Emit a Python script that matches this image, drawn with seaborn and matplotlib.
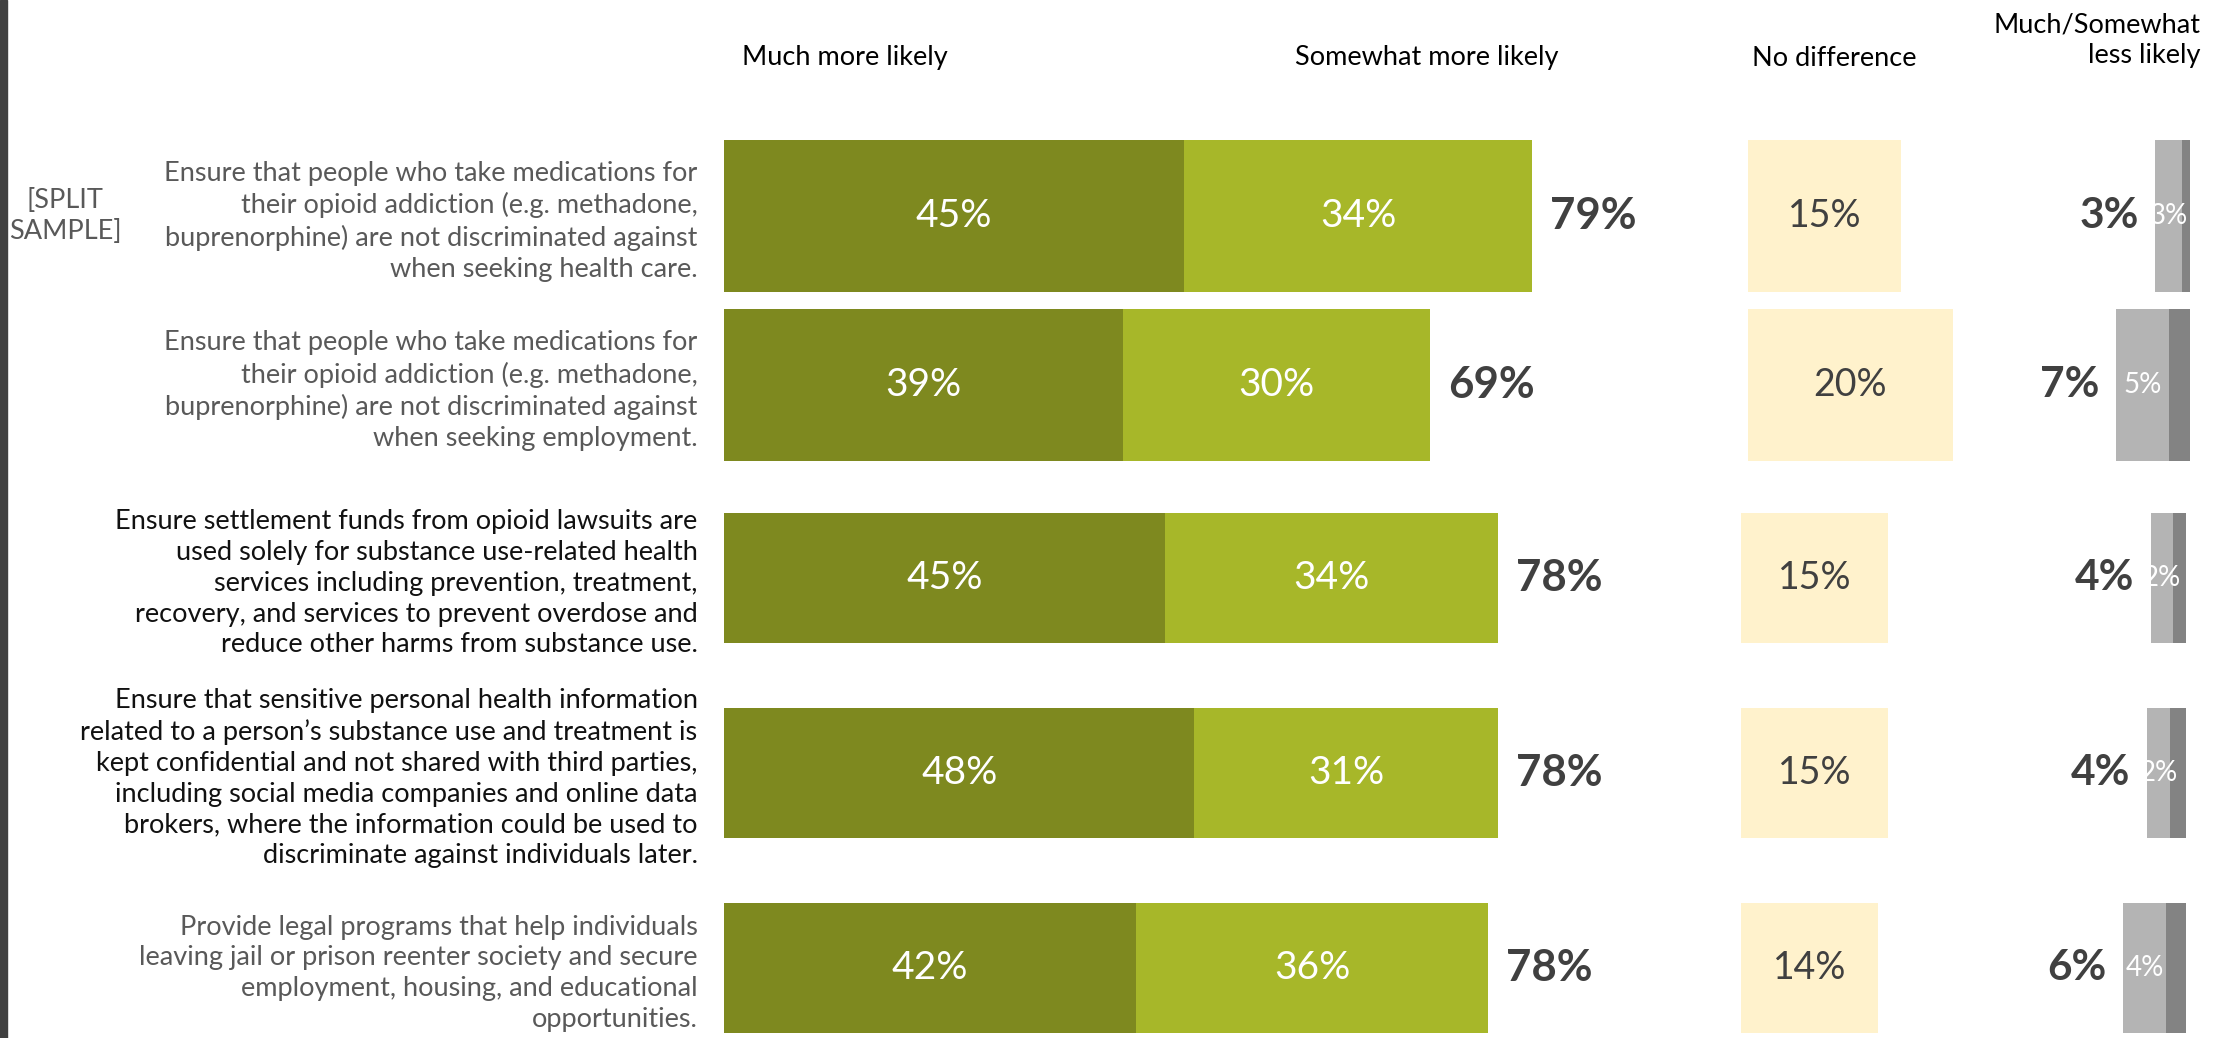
import matplotlib
matplotlib.use('Agg')
import matplotlib.pyplot as plt
import seaborn as sns
from matplotlib.patches import Rectangle

# data
statements = [
    "Ensure that people who take medications for\ntheir opioid addiction (e.g. methadone,\nbuprenorphine) are not discriminated against\nwhen seeking health care.",
    "Ensure that people who take medications for\ntheir opioid addiction (e.g. methadone,\nbuprenorphine) are not discriminated against\nwhen seeking employment.",
    "Ensure settlement funds from opioid lawsuits are\nused solely for substance use-related health\nservices including prevention, treatment,\nrecovery, and services to prevent overdose and\nreduce other harms from substance use.",
    "Ensure that sensitive personal health information\nrelated to a person\u2019s substance use and treatment is\nkept confidential and not shared with third parties,\nincluding social media companies and online data\nbrokers, where the information could be used to\ndiscriminate against individuals later.",
    "Provide legal programs that help individuals\nleaving jail or prison reenter society and secure\nemployment, housing, and educational\nopportunities.",
]
much_more = [45, 39, 45, 48, 42]
somewhat_more = [34, 30, 34, 31, 36]
total_more = [79, 69, 78, 78, 78]
no_difference = [15, 20, 15, 15, 14]
somewhat_less = [2.6, 5.1, 2.3, 2.4, 4.4]
much_less = [0.8, 2.1, 1.3, 1.6, 2.0]
total_less = [3, 7, 4, 4, 6]
headers = ["Much more likely", "Somewhat more likely", "No difference", "Much/Somewhat\nless likely"]

label_colors = ["#595959", "#595959", "#111111", "#111111", "#595959"]
DARK_GREEN = "#7E891F"
LIGHT_GREEN = "#A7B729"
YELLOW = "#FFF2CC"
LIGHT_GREY = "#B4B4B4"
DARK_GREY = "#838383"
NUM = "#404040"
TXT = 19.5

sns.set_style("white")
plt.rcParams['font.family'] = ['Lato', 'DejaVu Sans']

W, H = 2228, 1038
fig = plt.figure(figsize=(W / 100, H / 100), dpi=100)
fig.patch.set_facecolor("white")


def px_axes(x0, y0, w, h):
    return fig.add_axes([x0 / W, 1 - (y0 + h) / H, w / W, h / H])


# the two groups come from two separate charts with their own scale
groups = [
    dict(rows=slice(0, 2), top=131.5, step=169, width=0.90, ppp=10.23, nd_left=1748, less_right=2190),
    dict(rows=slice(2, 5), top=480.5, step=195, width=0.667, ppp=9.8, nd_left=1741, less_right=2186),
]

for g in groups:
    sl = g["rows"]
    cats = statements[sl]
    n = len(cats)
    h = n * g["step"]
    mm, sm = much_more[sl], somewhat_more[sl]
    kw = dict(orient="h", width=g["width"], saturation=1, errorbar=None, linewidth=0)

    # main stacked bars
    ax = px_axes(724, g["top"], 976, h)
    sns.barplot(x=[a + b for a, b in zip(mm, sm)], y=cats, color=LIGHT_GREEN, ax=ax, **kw)
    sns.barplot(x=mm, y=cats, color=DARK_GREEN, ax=ax, **kw)
    ax.set_xlim(0, 976 / g["ppp"])
    ax.set_ylim(n - 0.5, -0.5)
    ax.bar_label(ax.containers[1], labels=[f"{v}%" for v in mm], label_type="center",
                 color="white", fontsize=28)
    for bar, m, s in zip(ax.containers[0], mm, sm):
        ax.text(m + s / 2, bar.get_y() + bar.get_height() / 2, f"{s}%", color="white",
                fontsize=28, ha="center", va="center")
    ax.bar_label(ax.containers[0], labels=[f"{v}%" for v in total_more[sl]], padding=13,
                 color=NUM, fontsize=31.5, fontweight="bold")
    ax.set_xticks([])
    ax.set_xlabel("")
    ax.set_ylabel("")
    ax.tick_params(axis="y", length=0, pad=19, labelsize=TXT)
    for t, c in zip(ax.get_yticklabels(), label_colors[sl]):
        t.set_color(c)
        t.set_linespacing(1.29)
    sns.despine(ax=ax, left=True, bottom=True)

    # no difference
    ax2 = px_axes(g["nd_left"], g["top"], 300, h)
    sns.barplot(x=no_difference[sl], y=cats, color=YELLOW, ax=ax2, **kw)
    ax2.set_xlim(0, 300 / g["ppp"])
    ax2.set_ylim(n - 0.5, -0.5)
    ax2.bar_label(ax2.containers[0], labels=[f"{v}%" for v in no_difference[sl]],
                  label_type="center", color=NUM, fontsize=27)
    ax2.axis("off")

    # less likely, growing leftwards from the right edge
    sl_, ml = somewhat_less[sl], much_less[sl]
    ax3 = px_axes(g["less_right"] - 220, g["top"], 220, h)
    sns.barplot(x=[a + b for a, b in zip(sl_, ml)], y=cats, color=LIGHT_GREY, ax=ax3, **kw)
    sns.barplot(x=ml, y=cats, color=DARK_GREY, ax=ax3, **kw)
    ax3.set_xlim(220 / g["ppp"], 0)
    ax3.set_ylim(n - 0.5, -0.5)
    for bar, m, s in zip(ax3.containers[0], ml, sl_):
        ax3.text(m + s / 2, bar.get_y() + bar.get_height() / 2, f"{s:.0f}%", color="white",
                 fontsize=20, ha="center", va="center")
    ax3.bar_label(ax3.containers[0], labels=[f"{v}%" for v in total_less[sl]], padding=12,
                  color=NUM, fontsize=30.5, fontweight="bold")
    ax3.axis("off")

# column headers
fig.text(845 / W, 1 - 58 / H, headers[0], ha="center", va="center", fontsize=TXT, color="black")
fig.text(1427 / W, 1 - 58 / H, headers[1], ha="center", va="center", fontsize=TXT, color="black")
fig.text(1834 / W, 1 - 58 / H, headers[2], ha="center", va="center", fontsize=TXT, color="black")
fig.text(2201 / W, 1 - 40 / H, headers[3], ha="right", va="center", fontsize=TXT,
         color="black", linespacing=1.25)

fig.text(65 / W, 1 - 216 / H, "[SPLIT\nSAMPLE]", ha="center", va="center", fontsize=TXT,
         color="#595959", linespacing=1.29)

# dark strip on the left edge
fig.add_artist(Rectangle((0, 0), 7 / W, 1, transform=fig.transFigure, color="#404040"))

fig.savefig("out.png", dpi=100)
